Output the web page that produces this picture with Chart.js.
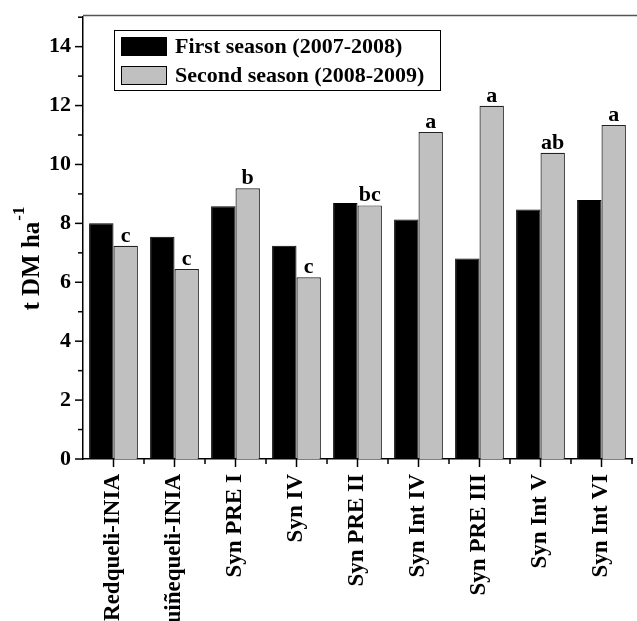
<!DOCTYPE html>
<html>
<head>
<meta charset="utf-8">
<script src="https://cdn.jsdelivr.net/npm/chart.js@4.4.0/dist/chart.umd.min.js"></script>
<style>
  html, body { margin: 0; padding: 0; background: #fff; }
  #wrap { width: 637px; height: 621px; }
</style>
</head>
<body>
<div id="wrap"><canvas id="yieldChart"></canvas></div>
<script>
const cultivars = ["Redqueli-INIA", "Quiñequeli-INIA", "Syn PRE I", "Syn IV", "Syn PRE II",
    "Syn Int IV", "Syn PRE III", "Syn Int V", "Syn Int VI"];
const firstSeason = [8.0, 7.55, 8.58, 7.24, 8.69, 8.13, 6.81, 8.47, 8.79];
const secondSeason = [7.24, 6.45, 9.19, 6.17, 8.61, 11.1, 11.99, 10.4, 11.34];
const letters = ["c", "c", "b", "c", "bc", "a", "a", "ab", "a"];
const seriesNames = ["First season (2007-2008)", "Second season (2008-2009)"];
const yTicks = [0, 2, 4, 6, 8, 10, 12, 14];

const serif = "'Liberation Serif', 'DejaVu Serif', serif";

/* ticks, top frame, letters, legend and axis title */
const decorations = {
    id: "decorations",
    afterDraw(chart) {
        const ctx = chart.ctx;
        const area = chart.chartArea;
        const x = chart.scales.x;
        const y = chart.scales.y;
        ctx.save();

        // top frame line
        ctx.strokeStyle = "#555";
        ctx.lineWidth = 1.5;
        ctx.beginPath();
        ctx.moveTo(area.left, 15.5);
        ctx.lineTo(637, 15.5);
        ctx.stroke();

        // y ticks, major on even values, minor on odd
        ctx.strokeStyle = "#000";
        for (let v = 0; v <= 15; v++) {
            const py = y.getPixelForValue(v);
            const len = v % 2 === 0 ? 8 : 5;
            ctx.beginPath();
            ctx.moveTo(area.left - len, py);
            ctx.lineTo(area.left, py);
            ctx.stroke();
        }

        // x ticks: major at category centre, minor between categories
        const step = (area.right - area.left) / cultivars.length;
        cultivars.forEach((c, i) => {
            const px = x.getPixelForValue(i);
            ctx.beginPath();
            ctx.moveTo(px, area.bottom);
            ctx.lineTo(px, area.bottom + 8);
            ctx.stroke();
            const mx = px + step / 2;
            ctx.beginPath();
            ctx.moveTo(mx, area.bottom);
            ctx.lineTo(mx, area.bottom + 5);
            ctx.stroke();
        });

        // significance letters above second season bars
        ctx.fillStyle = "#000";
        ctx.font = "bold 22px " + serif;
        ctx.textAlign = "center";
        ctx.textBaseline = "alphabetic";
        chart.getDatasetMeta(1).data.forEach((bar, i) => {
            ctx.fillText(letters[i], bar.x, bar.y - 4);
        });

        // legend
        ctx.lineWidth = 1;
        ctx.strokeRect(114.5, 30.5, 326, 60);
        const colors = chart.data.datasets.map(d => d.backgroundColor);
        ctx.font = "bold 22px " + serif;
        ctx.textAlign = "left";
        ctx.textBaseline = "middle";
        seriesNames.forEach((name, i) => {
            const top = 37 + i * 29;
            ctx.fillStyle = colors[i];
            ctx.fillRect(121.5, top + 0.5, 45, 18);
            ctx.strokeRect(121.5, top + 0.5, 45, 18);
            ctx.fillStyle = "#000";
            ctx.fillText(name, 175, top + 10);
        });

        // y axis title with superscript
        ctx.translate(39, 259);
        ctx.rotate(-Math.PI / 2);
        ctx.textBaseline = "alphabetic";
        ctx.font = "bold 25px " + serif;
        const main = "t DM ha";
        const w = ctx.measureText(main).width;
        ctx.font = "bold 17px " + serif;
        const sw = ctx.measureText("-1").width;
        const start = -(w + sw) / 2;
        ctx.font = "bold 25px " + serif;
        ctx.fillText(main, start, 0);
        ctx.font = "bold 17px " + serif;
        ctx.fillText("-1", start + w + 1, -15);
        ctx.restore();
    }
};

new Chart(document.getElementById("yieldChart"), {
    type: "bar",
    data: {
        labels: cultivars,
        datasets: [{
            label: seriesNames[0],
            data: firstSeason,
            backgroundColor: "#000000",
            borderColor: "#000000",
            borderWidth: 1
        }, {
            label: seriesNames[1],
            data: secondSeason,
            backgroundColor: "#c0c0c0",
            borderColor: "#222222",
            borderWidth: 1.2
        }]
    },
    options: {
        responsive: true,
        maintainAspectRatio: false,
        animation: false,
        layout: { padding: { top: 12, right: 5, left: 0, bottom: 0 } },
        plugins: {
            legend: { display: false },
            tooltip: { enabled: false }
        },
        datasets: {
            bar: { categoryPercentage: 0.8, barPercentage: 1.0 }
        },
        scales: {
            x: {
                grid: { display: false },
                border: { display: true, color: "#000", width: 1.5 },
                ticks: {
                    autoSkip: false,
                    minRotation: 90,
                    maxRotation: 90,
                    padding: 7,
                    color: "#000",
                    font: { family: serif, size: 23, weight: "bold" }
                },
                afterFit: s => { s.height = 162; }
            },
            y: {
                min: 0,
                max: 15,
                grid: { display: false },
                border: { display: true, color: "#000", width: 1.5 },
                afterBuildTicks: s => { s.ticks = yTicks.map(v => ({ value: v })); },
                ticks: {
                    padding: 4,
                    color: "#000",
                    font: { family: serif, size: 22, weight: "bold" }
                },
                afterFit: s => { s.width = 83; }
            }
        }
    },
    plugins: [decorations]
});
</script>
</body>
</html>
